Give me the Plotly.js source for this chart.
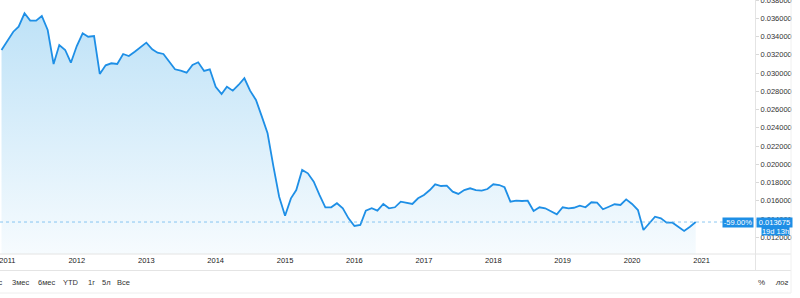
<!DOCTYPE html>
<html>
<head>
<meta charset="utf-8">
<script src="https://cdn.plot.ly/plotly-3.0.1.min.js"></script>
<style>html,body{margin:0;padding:0;background:#fff;}#chart{width:800px;height:298px;}</style>
</head>
<body>
<div id="chart"></div>
<script>
// ---- data ----
var dates = [
"2010-12-01",
"2011-01-01","2011-02-01","2011-03-01","2011-04-01","2011-05-01","2011-06-01","2011-07-01","2011-08-01","2011-09-01","2011-10-01","2011-11-01","2011-12-01",
"2012-01-01","2012-02-01","2012-03-01","2012-04-01","2012-05-01","2012-06-01","2012-07-01","2012-08-01","2012-09-01","2012-10-01","2012-11-01","2012-12-01",
"2013-01-01","2013-02-01","2013-03-01","2013-04-01","2013-05-01","2013-06-01","2013-07-01","2013-08-01","2013-09-01","2013-10-01","2013-11-01","2013-12-01",
"2014-01-01","2014-02-01","2014-03-01","2014-04-01","2014-05-01","2014-06-01","2014-07-01","2014-08-01","2014-09-01","2014-10-01","2014-11-01","2014-12-01",
"2015-01-01","2015-02-01","2015-03-01","2015-04-01","2015-05-01","2015-06-01","2015-07-01","2015-08-01","2015-09-01","2015-10-01","2015-11-01","2015-12-01",
"2016-01-01","2016-02-01","2016-03-01","2016-04-01","2016-05-01","2016-06-01","2016-07-01","2016-08-01","2016-09-01","2016-10-01","2016-11-01","2016-12-01",
"2017-01-01","2017-02-01","2017-03-01","2017-04-01","2017-05-01","2017-06-01","2017-07-01","2017-08-01","2017-09-01","2017-10-01","2017-11-01","2017-12-01",
"2018-01-01","2018-02-01","2018-03-01","2018-04-01","2018-05-01","2018-06-01","2018-07-01","2018-08-01","2018-09-01","2018-10-01","2018-11-01","2018-12-01",
"2019-01-01","2019-02-01","2019-03-01","2019-04-01","2019-05-01","2019-06-01","2019-07-01","2019-08-01","2019-09-01","2019-10-01","2019-11-01","2019-12-01",
"2020-01-01","2020-02-01","2020-03-01","2020-04-01","2020-05-01","2020-06-01","2020-07-01","2020-08-01","2020-09-01","2020-10-01","2020-11-01","2020-12-01"
];
var prices = [
0.03253,
0.03355,0.03453,0.03508,0.03655,0.03574,0.03574,0.03625,0.03472,0.03099,0.03307,0.03253,0.03113,
0.03296,0.03436,0.03398,0.03406,0.02990,0.03085,0.03107,0.03099,0.03209,0.03187,0.03234,0.03282,
0.03333,0.03260,0.03223,0.03209,0.03124,0.03041,0.03026,0.03004,0.03088,0.03118,0.03023,0.03041,
0.02850,0.02770,0.02850,0.02807,0.02869,0.02943,0.02807,0.02705,0.02522,0.02340,0.01974,0.01645,
0.01437,0.01627,0.01718,0.01938,0.01901,0.01809,0.01664,0.01529,0.01529,0.01573,0.01518,0.01408,
0.01324,0.01335,0.01492,0.01518,0.01492,0.01565,0.01518,0.01529,0.01590,0.01579,0.01565,0.01627,
0.01664,0.01718,0.01781,0.01762,0.01766,0.01700,0.01675,0.01718,0.01737,0.01718,0.01711,0.01729,
0.01781,0.01773,0.01748,0.01590,0.01601,0.01598,0.01601,0.01488,0.01529,0.01518,0.01488,0.01452,
0.01529,0.01518,0.01524,0.01546,0.01529,0.01584,0.01579,0.01507,0.01535,0.01562,0.01554,0.01616,
0.01565,0.01499,0.01280,0.01353,0.01426,0.01408,0.01360,0.01360,0.01310,0.01269,0.01316,0.013675
];
var yearTicks = ["2011-01-01","2012-01-01","2013-01-01","2014-01-01","2015-01-01","2016-01-01","2017-01-01","2018-01-01","2019-01-01","2020-01-01","2021-01-01"];
var yearLabels = ["2011","2012","2013","2014","2015","2016","2017","2018","2019","2020","2021"];
var rangeButtons = ["1мес","3мес","6мес","YTD","1г","5л","Все"];
var lastPrice = 0.013675;
var changeText = "-59.00%";
var priceText = "0.013675";
var timerText = "19d 13h";

// ---- geometry helpers (pixel -> paper) ----
var W = 800, H = 298, ML = 0, MR = 45, MT = 0, MB = 44;
var PW = W - ML - MR, PH = H - MT - MB;
function px(x){ return (x - ML) / PW; }
function py(y){ return (H - MB - y) / PH; }

var blue = '#1e8fe6';
var font = 'Liberation Sans, Arial, sans-serif';

var trace = {
  x: dates, y: prices, type: 'scatter', mode: 'lines',
  line: {color: blue, width: 1.8},
  fill: 'tozeroy',
  fillgradient: {type: 'vertical', start: 0.0102, stop: 0.0375,
    colorscale: [[0, 'rgb(246,251,254)'], [1, 'rgb(188,225,247)']]},
  hoverinfo: 'skip'
};

var lineCol = '#e4e4e4';
var shapes = [
  {type:'line', xref:'paper', yref:'y', x0:0, x1:px(723), y0:lastPrice, y1:lastPrice,
   line:{color:'rgba(90,175,235,0.7)', width:1, dash:'dot'}},
  {type:'line', xref:'paper', yref:'paper', x0:px(0), x1:px(791), y0:py(254), y1:py(254), line:{color:lineCol, width:1}},
  {type:'line', xref:'paper', yref:'paper', x0:px(0), x1:px(791), y0:py(270.5), y1:py(270.5), line:{color:lineCol, width:1}},
  {type:'line', xref:'paper', yref:'paper', x0:px(0), x1:px(791), y0:py(293), y1:py(293), line:{color:'#eeeeee', width:1}},
  {type:'line', xref:'paper', yref:'paper', x0:px(755.5), x1:px(755.5), y0:py(0), y1:py(270.5), line:{color:lineCol, width:1}},
  {type:'line', xref:'paper', yref:'paper', x0:px(791), x1:px(791), y0:py(0), y1:py(293), line:{color:'#f0f0f0', width:1}}
];

var btnX = [3.5, 20.5, 46.5, 71, 91, 106.5, 124];
var annotations = [];
rangeButtons.forEach(function(t, i){
  annotations.push({xref:'paper', yref:'paper', x:px(btnX[i]), y:py(282), text:t, showarrow:false,
    xanchor: i === 0 ? 'right' : 'center', yanchor:'middle', font:{family:font, size:7.5, color:'#333'}});
});
annotations.push({xref:'paper', yref:'paper', x:px(762), y:py(282), text:'%', showarrow:false,
  xanchor:'center', yanchor:'middle', font:{family:font, size:8, color:'#333'}});
annotations.push({xref:'paper', yref:'paper', x:px(781), y:py(282), text:'<i>лог</i>', showarrow:false,
  xanchor:'center', yanchor:'middle', font:{family:font, size:7.5, color:'#333'}});
annotations.push({xref:'paper', yref:'y', x:px(738), y:lastPrice, text:changeText, showarrow:false,
  xanchor:'center', yanchor:'middle', bgcolor:blue, width:30, height:9, borderpad:0,
  font:{family:font, size:7.5, color:'#fff'}});
annotations.push({xref:'paper', yref:'y', x:px(774.5), y:lastPrice, text:priceText, showarrow:false,
  xanchor:'center', yanchor:'middle', bgcolor:blue, width:35, height:9, borderpad:0,
  font:{family:font, size:7.5, color:'#fff'}});
annotations.push({xref:'paper', yref:'paper', x:px(775.5), y:py(231), text:timerText, showarrow:false,
  xanchor:'center', yanchor:'middle', bgcolor:blue, width:27, height:8, borderpad:0,
  font:{family:font, size:7.5, color:'#fff'}});

var layout = {
  width: W, height: H,
  margin: {l: ML, r: MR, t: MT, b: MB, pad: 0},
  paper_bgcolor: '#fff', plot_bgcolor: '#fff',
  showlegend: false,
  xaxis: {type:'date', range:['2010-11-23','2021-10-09'], tickmode:'array', tickvals: yearTicks, ticktext: yearLabels,
    ticklabeloverflow:'allow',
    showgrid:false, zeroline:false, showline:false, ticks:'', tickfont:{family:font, size:7.5, color:'#222'}, fixedrange:true},
  yaxis: {side:'right', range:[0.01017, 0.038005], dtick:0.002, tick0:0, tickformat:'.6f',
    ticklabeloverflow:'allow',
    showgrid:false, zeroline:false, showline:false, ticks:'outside', ticklen:3, tickcolor:'#d8d8d8',
    tickfont:{family:font, size:7.5, color:'#333'}, fixedrange:true},
  shapes: shapes,
  annotations: annotations
};

Plotly.newPlot('chart', [trace], layout, {displayModeBar:false, staticPlot:true});
</script>
</body>
</html>
